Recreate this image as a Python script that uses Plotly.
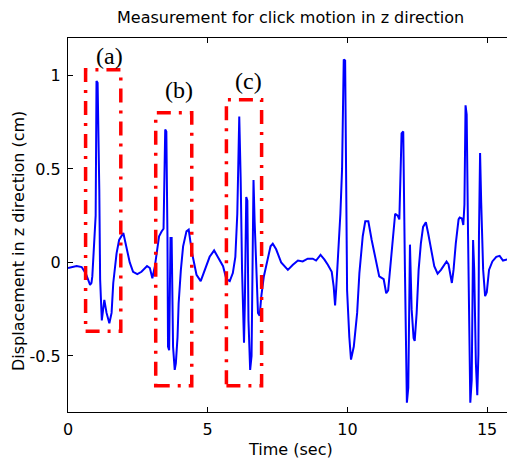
import plotly.graph_objects as go

# Time (sec) and displacement (cm)
time_s = [0.00, 0.15, 0.31, 0.49, 0.64, 0.79, 0.84, 0.87, 0.93, 0.99, 1.02, 1.06, 1.12, 1.15, 1.21, 1.26,
          1.30, 1.38, 1.48, 1.56, 1.62, 1.74, 1.83, 1.98, 2.07, 2.21, 2.33, 2.48, 2.63, 2.83, 2.93, 3.02,
          3.11, 3.19, 3.26, 3.35, 3.42, 3.48, 3.52, 3.56, 3.58, 3.62, 3.67, 3.71, 3.74, 3.76, 3.82, 3.86,
          3.92, 3.96, 4.04, 4.12, 4.24, 4.32, 4.44, 4.60, 4.75, 4.89, 5.07, 5.23, 5.37, 5.55, 5.67, 5.79,
          5.90, 5.99, 6.06, 6.13, 6.18, 6.23, 6.30, 6.33, 6.38, 6.42, 6.46, 6.52, 6.57, 6.61, 6.64, 6.68,
          6.74, 6.80, 6.86, 6.92, 7.01, 7.13, 7.25, 7.33, 7.45, 7.63, 7.87, 8.05, 8.23, 8.40, 8.58, 8.76,
          8.88, 9.04, 9.18, 9.30, 9.44, 9.51, 9.56, 9.60, 9.68, 9.75, 9.81, 9.87, 9.92, 9.96, 9.99, 10.07,
          10.13, 10.23, 10.35, 10.43, 10.55, 10.64, 10.75, 10.87, 11.02, 11.14, 11.30, 11.39, 11.46, 11.58,
          11.66, 11.71, 11.80, 11.86, 11.94, 12.00, 12.06, 12.13, 12.18, 12.24, 12.30, 12.37, 12.41, 12.48,
          12.55, 12.63, 12.71, 12.81, 12.89, 12.99, 13.11, 13.23, 13.35, 13.55, 13.62, 13.74, 13.80, 13.88,
          13.98, 14.02, 14.10, 14.15, 14.19, 14.23, 14.27, 14.32, 14.36, 14.40, 14.45, 14.50, 14.54, 14.60,
          14.65, 14.69, 14.71, 14.75, 14.79, 14.86, 14.93, 14.99, 15.07, 15.19, 15.33, 15.45, 15.57, 15.73,
          15.85, 15.96, 16.00]
disp_cm = [-0.03, -0.025, -0.02, -0.025, -0.06, -0.12, -0.11, -0.075, 0.07, 0.25, 0.97, 0.96, 0.39, -0.09, -0.31, -0.25,
           -0.20, -0.27, -0.325, -0.27, -0.11, 0.05, 0.12, 0.157, 0.10, 0.0, -0.05, -0.063, -0.05, -0.02, -0.03, -0.085,
           -0.02, 0.07, 0.14, 0.165, 0.18, 0.71, 0.70, 0.14, -0.45, -0.47, 0.13, 0.13, -0.34, -0.45, -0.575, -0.54,
           -0.40, -0.22, -0.04, 0.086, 0.166, 0.175, 0.05, -0.066, -0.10, -0.04, 0.03, 0.064, 0.03, -0.02, -0.09, -0.10,
           -0.057, 0.03, 0.26, 0.78, 0.45, -0.04, -0.43, -0.22, 0.35, 0.33, -0.31, -0.575, -0.50, -0.04, 0.44, 0.22,
           -0.04, -0.27, -0.285, -0.18, -0.075, 0.0, 0.086, 0.10, 0.07, 0.0, -0.04, -0.013, 0.01, 0.005, 0.02, 0.02,
           0.01, 0.04, 0.015, -0.013, -0.05, -0.13, -0.23, -0.14, 0.07, 0.26, 0.50, 1.085, 1.08, 0.50, -0.15, -0.40,
           -0.52, -0.45, -0.27, -0.057, 0.14, 0.22, 0.22, 0.12, 0.0, -0.075, -0.09, -0.165, -0.15, 0.07,
           0.175, 0.26, 0.25, 0.23, 0.69, 0.70, -0.04, -0.75, -0.67, 0.095, -0.25, -0.405, -0.42, -0.27,
           -0.04, 0.10, 0.19, 0.215, 0.157, 0.07, -0.02, -0.06, -0.04, 0.005, -0.01, -0.11, -0.04, 0.10,
           0.23, 0.24, 0.235, 0.20, 0.31, 0.84, 0.79, 0.14, -0.31, -0.75, -0.63, 0.12, -0.04, -0.54,
           -0.71, -0.49, 0.14, 0.585, 0.32, -0.04, -0.18, -0.16, -0.04, 0.005, 0.03, 0.035, 0.01, 0.015,
           0.02, 0.03, 0.03]

# Highlight boxes: label, x0, x1, y0, y1 and label position
box_labels = ["(a)", "(b)", "(c)"]
box_x0 = [0.63, 3.14, 5.67]
box_x1 = [1.89, 4.43, 6.93]
box_y0 = [-0.368, -0.66, -0.66]
box_y1 = [1.03, 0.80, 0.87]
label_x = [1.475, 3.975, 6.45]
label_y = [1.103, 0.921, 0.972]

x_ticks = [0, 5, 10, 15]
y_ticks = [-0.5, 0, 0.5, 1]

TXT = dict(family="DejaVu Sans", size=16, color="black")

fig = go.Figure()
fig.add_trace(go.Scatter(x=time_s, y=disp_cm, mode="lines",
                         line=dict(color="#0000ff", width=2), showlegend=False))

for i in range(len(box_labels)):
    fig.add_shape(type="rect", xref="x", yref="y",
                  x0=box_x0[i], x1=box_x1[i], y0=box_y0[i], y1=box_y1[i],
                  line=dict(color="#ff0000", width=3.5, dash="14px,8px,3px,8px"))
    fig.add_annotation(x=label_x[i], y=label_y[i], xref="x", yref="y", text=box_labels[i],
                       showarrow=False, font=dict(family="Liberation Serif", size=24, color="black"))

# The page body has an 8px default margin, so the figure is laid out 8px smaller
OFF = 8
W, H = 515 - OFF, 465 - OFF
L, R, T, B = 68 - OFF, 0, 38 - OFF, 465 - 412
pw, ph = W - L - R, H - T - B

def px_to_paper(px, py):
    return (px - OFF - L) / pw, (H - B - (py - OFF)) / ph

ax, ay = px_to_paper(19, 241)
fig.add_annotation(text="Displacement in z direction (cm)", xref="paper", yref="paper",
                   x=ax, y=ay, xanchor="center", yanchor="middle", textangle=-90,
                   showarrow=False, font=TXT)
tx, ty = px_to_paper(290, 449)
fig.add_annotation(text="Time (sec)", xref="paper", yref="paper", x=tx, y=ty,
                   xanchor="center", yanchor="middle", showarrow=False, font=TXT)
hx, hy = px_to_paper(290, 17)
fig.add_annotation(text="Measurement for click motion in z direction", xref="paper", yref="paper",
                   x=hx, y=hy, xanchor="center", yanchor="middle", showarrow=False, font=TXT)

axis_common = dict(showline=True, linecolor="black", linewidth=1, mirror="ticks",
                   ticks="inside", ticklen=5, tickcolor="black", showgrid=False, zeroline=False,
                   automargin=False, tickfont=TXT, ticklabelstandoff=3)

fig.update_layout(
    width=W, height=H,
    margin=dict(l=L, r=R, t=T, b=B, autoexpand=False),
    paper_bgcolor="white", plot_bgcolor="white",
    xaxis=dict(range=[0, 16], tickvals=x_ticks, **axis_common),
    yaxis=dict(range=[-0.8, 1.2], tickvals=y_ticks, ticktext=["-0.5", "0", "0.5", "1"],
               **axis_common),
)

fig.write_html("out.html")
